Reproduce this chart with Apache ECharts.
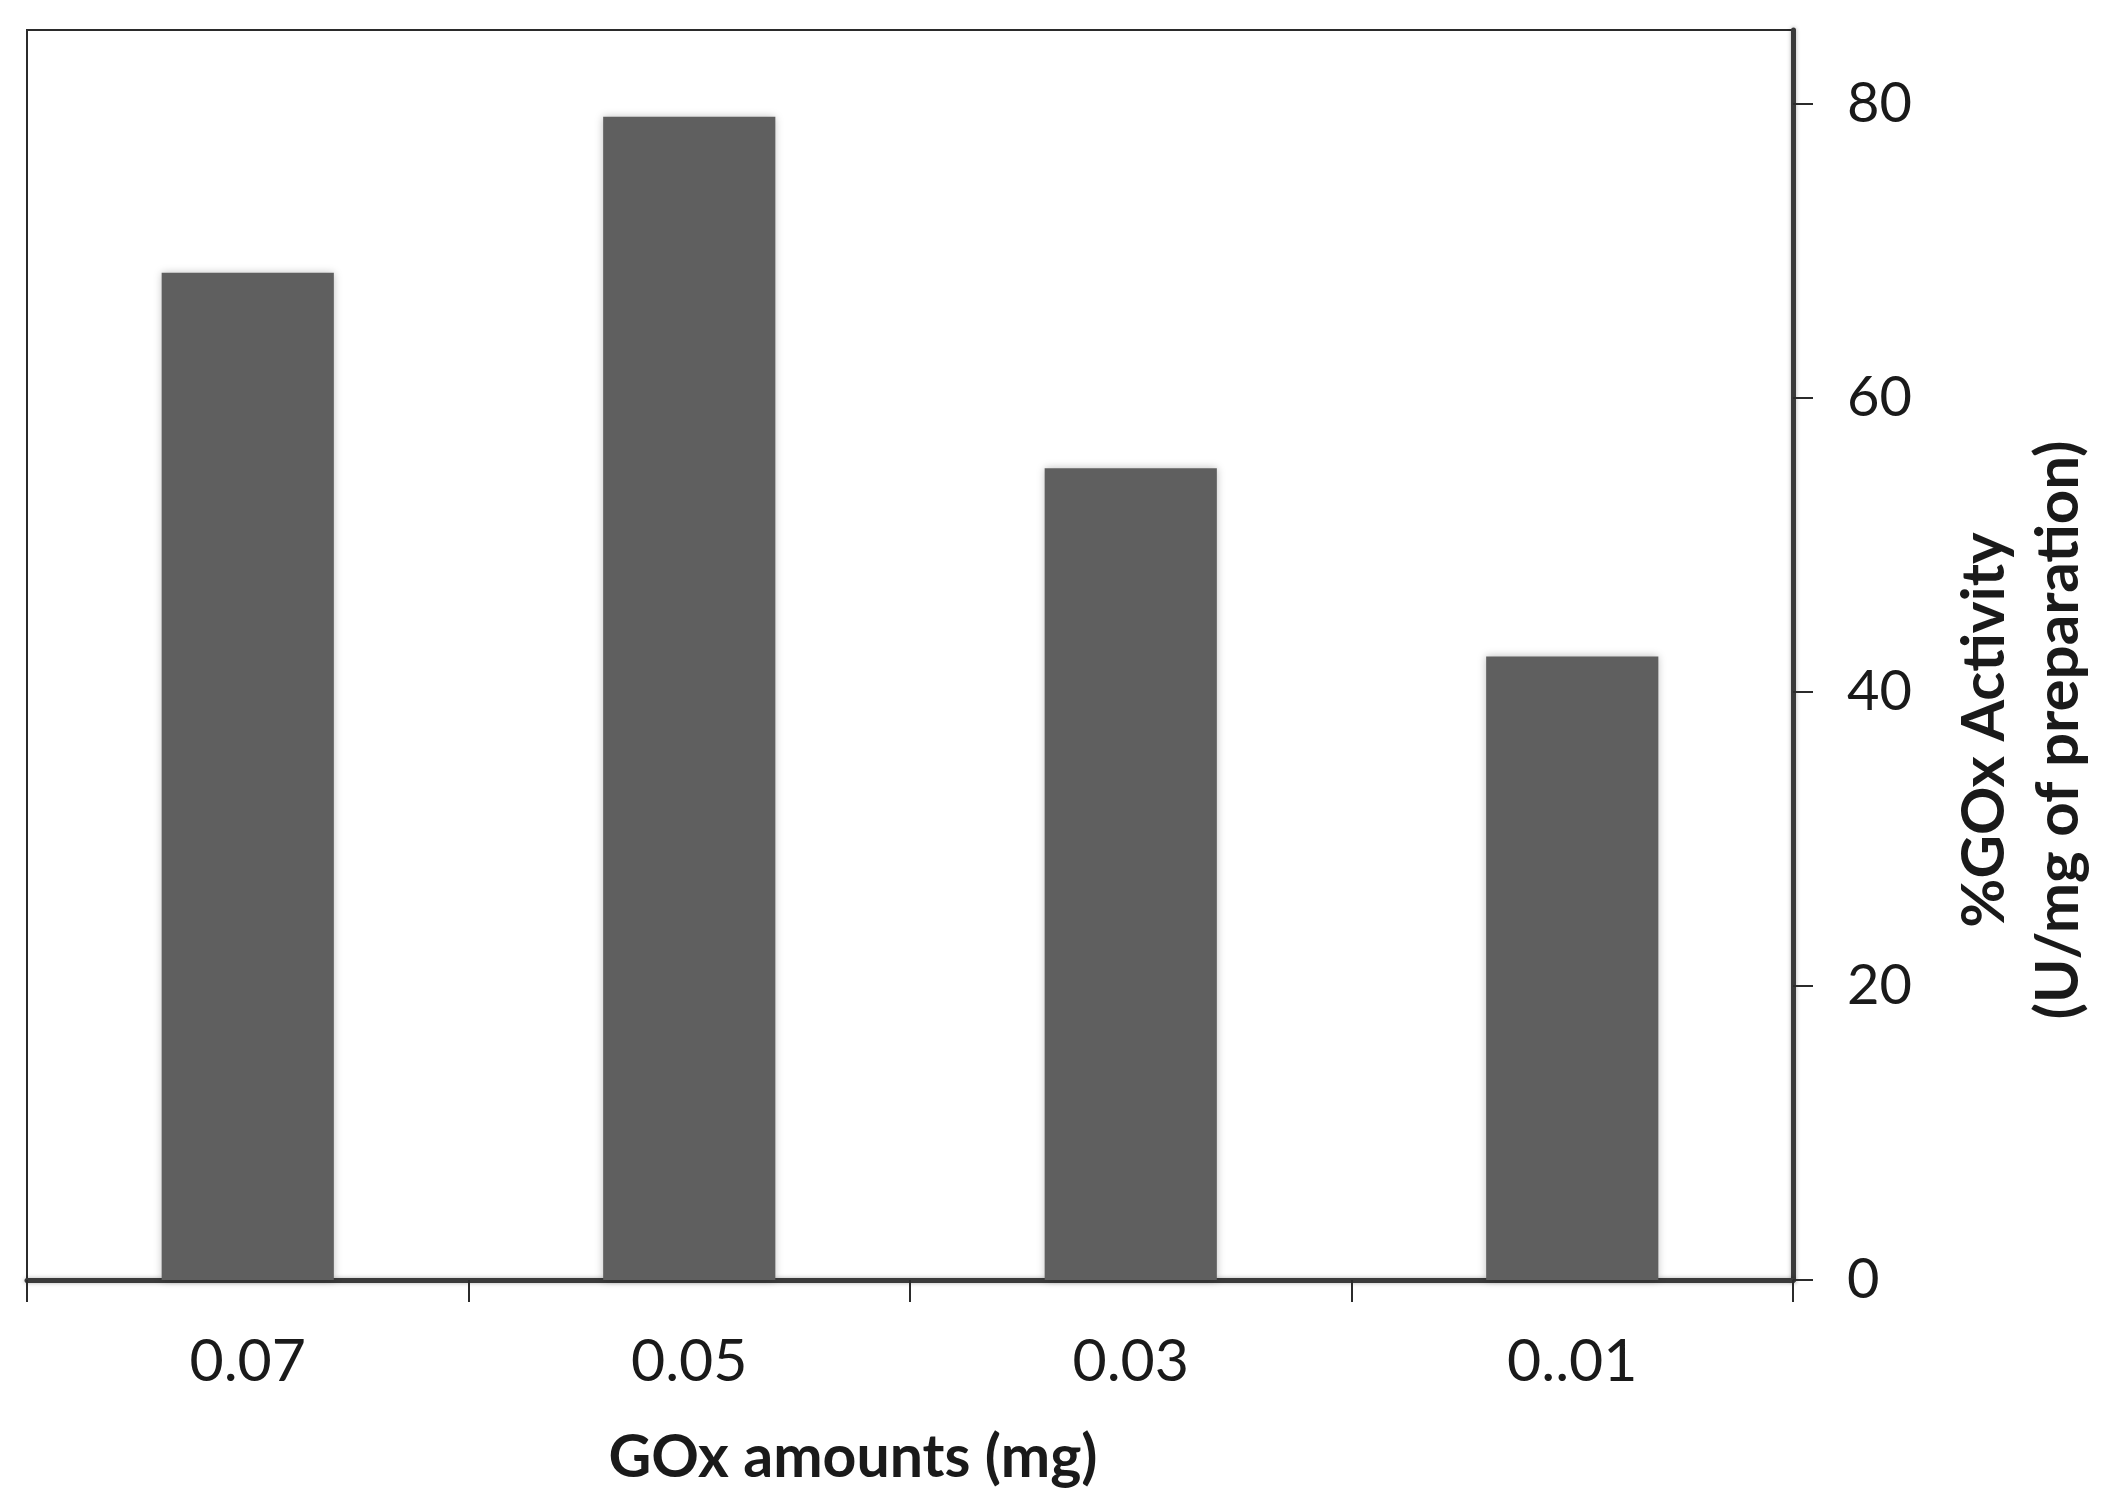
<!DOCTYPE html>
<html>
<head>
<meta charset="utf-8">
<script src="https://cdn.jsdelivr.net/npm/echarts@6/dist/echarts.min.js"></script>
<style>
html,body{margin:0;padding:0;background:#fff;}
#chart{width:2117px;height:1506px;}
</style>
</head>
<body>
<div id="chart"></div>
<script>
const categories = ['0.07', '0.05', '0.03', '0..01'];
const activity = [68.5, 79.1, 55.2, 42.4];
const yTicks = [0, 20, 40, 60, 80];
const xTitle = 'GOx amounts (mg)';
const yTitle = '%GOx Activity\n(U/mg of preparation)';

const chart = echarts.init(document.getElementById('chart'), null, {renderer: 'canvas'});
const FONT = 'Lato';
chart.setOption({
  animation: false,
  backgroundColor: '#ffffff',
  grid: {
    left: 27, right: 324, top: 30, bottom: 226,
    outerBoundsMode: 'none',
    containLabel: false,
    show: true, borderColor: '#2b2b2b', borderWidth: 2, backgroundColor: 'transparent'
  },
  xAxis: {
    type: 'category',
    data: categories,
    name: xTitle,
    nameLocation: 'middle',
    nameGap: 148,
    nameTextStyle: {fontFamily: FONT, fontWeight: 'bold', fontSize: 59, color: '#1a1a1a', padding: [0, 114, 0, 0]},
    axisLine: {show: true, lineStyle: {color: '#3a3a3a', width: 5, shadowColor: 'rgba(0,0,0,0.3)', shadowBlur: 4}},
    axisTick: {show: true, alignWithLabel: false, length: 22, lineStyle: {color: '#2b2b2b', width: 2}},
    axisLabel: {fontFamily: FONT, fontSize: 59, color: '#1a1a1a', margin: 52}
  },
  yAxis: {
    type: 'value',
    position: 'right',
    min: 0, max: 85, interval: 20,
    name: yTitle,
    nameLocation: 'middle',
    nameGap: 155,
    nameRotate: 90,
    nameTextStyle: {fontFamily: FONT, fontWeight: 'bold', fontSize: 60, color: '#1a1a1a', lineHeight: 74, align: 'center', padding: [0, 150, 0, 0]},
    axisLine: {show: true, lineStyle: {color: '#3a3a3a', width: 5, shadowColor: 'rgba(0,0,0,0.3)', shadowBlur: 4}},
    axisTick: {show: true, length: 20, customValues: yTicks, lineStyle: {color: '#2b2b2b', width: 2}},
    axisLabel: {fontFamily: FONT, fontSize: 56, color: '#1a1a1a', margin: 54, customValues: yTicks},
    splitLine: {show: false}
  },
  series: [{
    type: 'bar',
    data: activity,
    barWidth: '39%',
    itemStyle: {color: '#5f5f5f', shadowColor: 'rgba(0,0,0,0.25)', shadowBlur: 8}
  }]
});
</script>
</body>
</html>
